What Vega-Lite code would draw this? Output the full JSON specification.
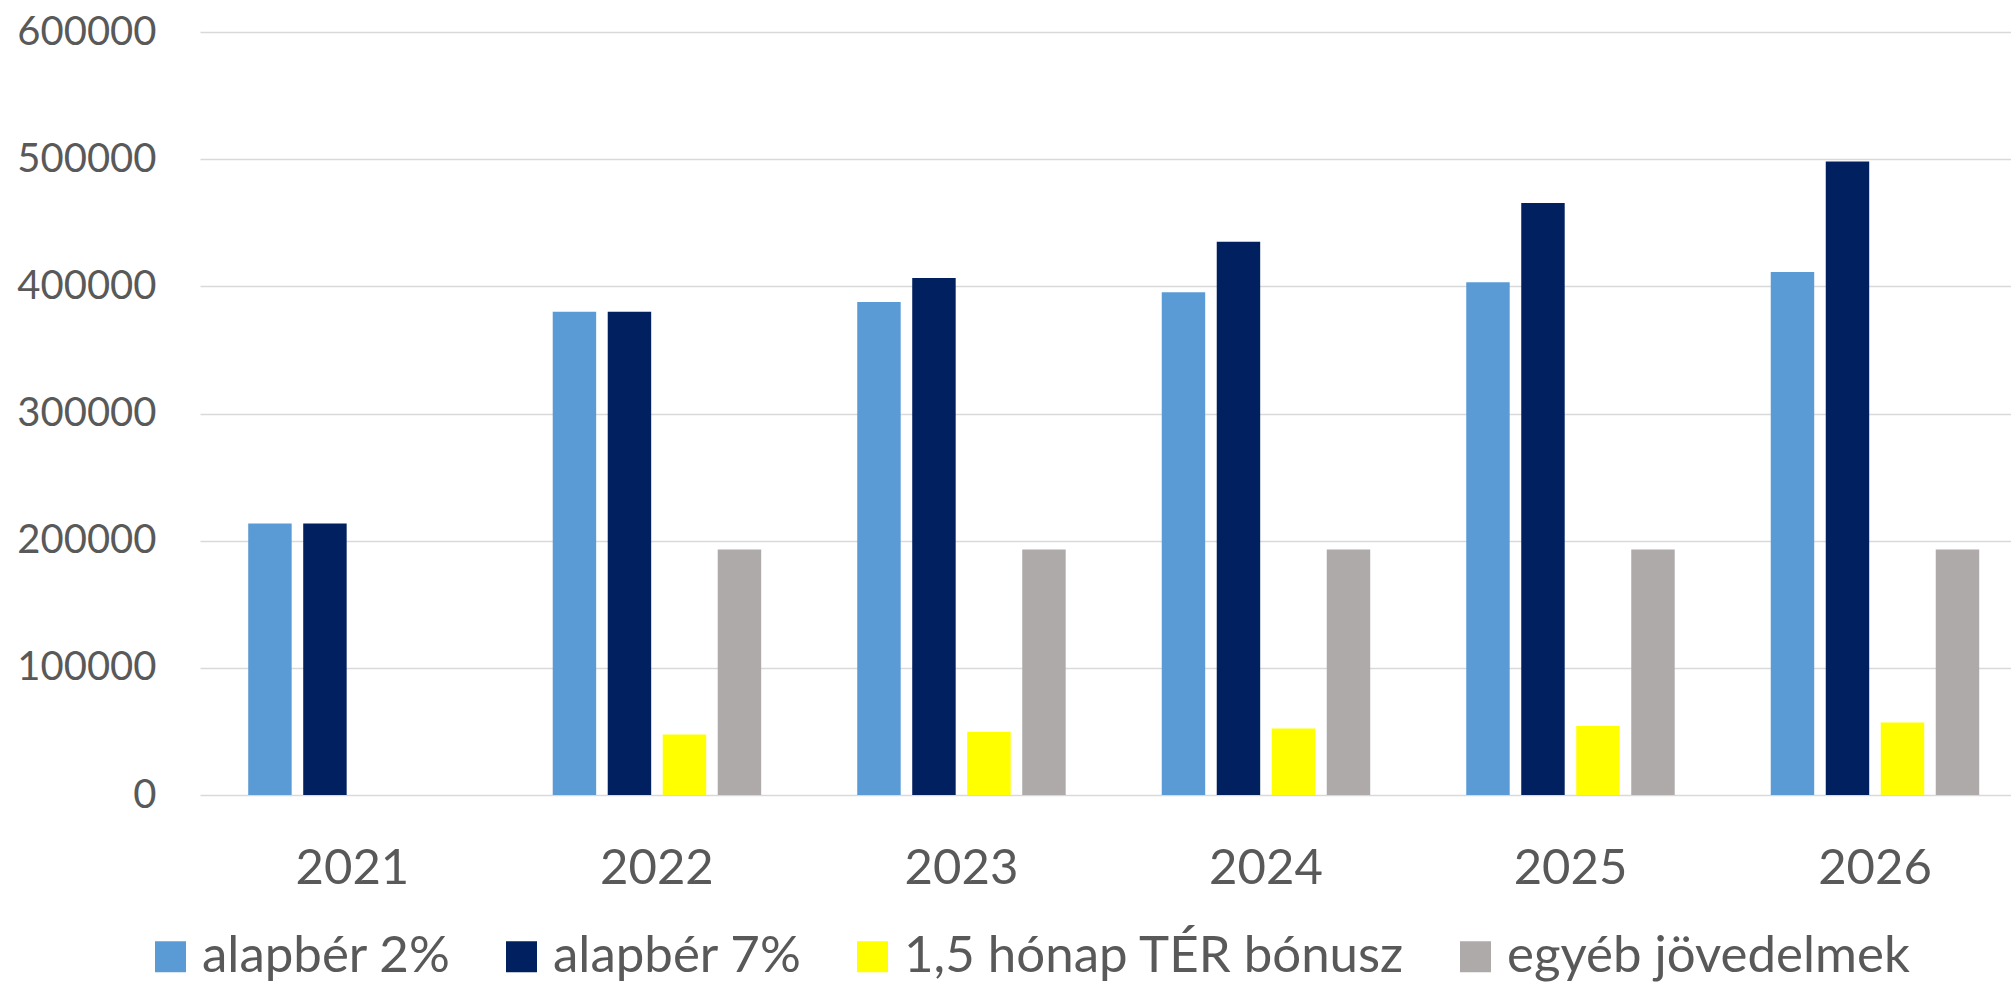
{
  "$schema": "https://vega.github.io/schema/vega-lite/v6.json",
  "width": 1811,
  "height": 763,
  "autosize": "none",
  "padding": {"left": 200, "top": 32, "right": 0, "bottom": 187},
  "background": "white",
  "config": {
    "view": {"stroke": null},
    "font": "Lato",
    "axis": {"labelFont": "Lato", "labelColor": "#595959", "ticks": false, "domain": false, "title": null}
  },
  "data": {
    "values": [
      {"year": "2021", "series": "alapbér 2%", "value": 213500},
      {"year": "2021", "series": "alapbér 7%", "value": 213500},
      {"year": "2022", "series": "alapbér 2%", "value": 380000},
      {"year": "2022", "series": "alapbér 7%", "value": 380000},
      {"year": "2022", "series": "1,5 hónap TÉR bónusz", "value": 47500},
      {"year": "2022", "series": "egyéb jövedelmek", "value": 193000},
      {"year": "2023", "series": "alapbér 2%", "value": 387600},
      {"year": "2023", "series": "alapbér 7%", "value": 406600},
      {"year": "2023", "series": "1,5 hónap TÉR bónusz", "value": 49700},
      {"year": "2023", "series": "egyéb jövedelmek", "value": 193000},
      {"year": "2024", "series": "alapbér 2%", "value": 395400},
      {"year": "2024", "series": "alapbér 7%", "value": 435100},
      {"year": "2024", "series": "1,5 hónap TÉR bónusz", "value": 52300},
      {"year": "2024", "series": "egyéb jövedelmek", "value": 193000},
      {"year": "2025", "series": "alapbér 2%", "value": 403300},
      {"year": "2025", "series": "alapbér 7%", "value": 465500},
      {"year": "2025", "series": "1,5 hónap TÉR bónusz", "value": 54300},
      {"year": "2025", "series": "egyéb jövedelmek", "value": 193000},
      {"year": "2026", "series": "alapbér 2%", "value": 411300},
      {"year": "2026", "series": "alapbér 7%", "value": 498100},
      {"year": "2026", "series": "1,5 hónap TÉR bónusz", "value": 57000},
      {"year": "2026", "series": "egyéb jövedelmek", "value": 193000}
    ]
  },
  "mark": {"type": "bar"},
  "encoding": {
    "x": {
      "field": "year",
      "type": "nominal",
      "scale": {"paddingInner": 0.2775, "paddingOuter": 0.1124, "align": 0.62},
      "axis": {"labelAngle": 0, "labelFontSize": 49, "labelPadding": 49, "grid": false}
    },
    "xOffset": {
      "field": "series",
      "type": "nominal",
      "scale": {
        "domain": ["alapbér 2%", "alapbér 7%", "1,5 hónap TÉR bónusz", "egyéb jövedelmek"],
        "paddingInner": 0.21,
        "paddingOuter": 0.105
      }
    },
    "y": {
      "field": "value",
      "type": "quantitative",
      "scale": {"domain": [0, 600000], "nice": false},
      "axis": {
        "values": [0, 100000, 200000, 300000, 400000, 500000, 600000],
        "format": "d",
        "labelFontSize": 40,
        "labelPadding": 44,
        "gridColor": "#d9d9d9",
        "gridWidth": 1.6
      }
    },
    "color": {
      "field": "series",
      "type": "nominal",
      "scale": {
        "domain": ["alapbér 2%", "alapbér 7%", "1,5 hónap TÉR bónusz", "egyéb jövedelmek"],
        "range": ["#5B9BD5", "#002060", "#FFFF00", "#AEAAAA"]
      },
      "legend": {
        "title": null,
        "orient": "none",
        "direction": "horizontal",
        "legendX": -55,
        "legendY": 899,
        "padding": 0,
        "symbolType": "square",
        "symbolSize": 961,
        "symbolStrokeWidth": 0,
        "symbolOpacity": 1,
        "labelFont": "Lato",
        "labelFontSize": 51,
        "labelColor": "#595959",
        "labelLimit": 1000,
        "labelOffset": 6,
        "columnPadding": 45
      }
    }
  }
}
